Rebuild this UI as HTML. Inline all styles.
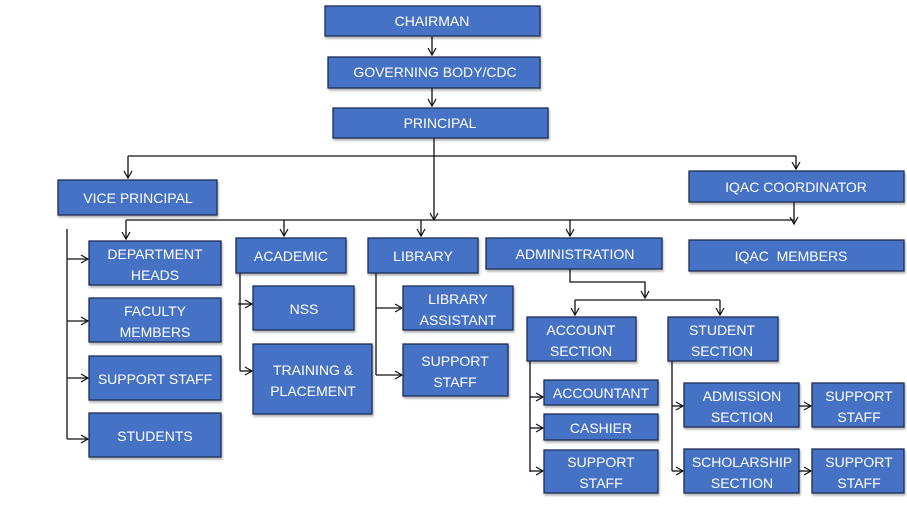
<!DOCTYPE html>
<html><head><style>
html,body{margin:0;padding:0;background:#fff;}
svg{display:block;}
text{font-family:"Liberation Sans",sans-serif;font-size:14px;fill:#fff;text-anchor:middle;}
.b{fill:#4472C4;stroke:#1c2e55;stroke-width:1.3;filter:url(#sh);}
.l{stroke:#111;stroke-width:1.3;fill:none;}
</style></head><body>
<svg width="907" height="508" viewBox="0 0 907 508" xmlns="http://www.w3.org/2000/svg">
<defs>
<filter id="sh" x="-5%" y="-5%" width="115%" height="130%"><feDropShadow dx="1" dy="2" stdDeviation="1" flood-color="#000" flood-opacity="0.3"/></filter>
<marker id="a" markerWidth="10" markerHeight="10" refX="8" refY="5" orient="auto" markerUnits="userSpaceOnUse"><path d="M1,1 L8,5 L1,9" fill="none" stroke="#111" stroke-width="1.2"/></marker>
</defs>
<!-- connectors -->
<g class="l">
<path d="M432,36V55" marker-end="url(#a)"/>
<path d="M432,88V106" marker-end="url(#a)"/>
<path d="M434,138V220" marker-end="url(#a)"/>
<path d="M128,156H796"/>
<path d="M128,156V178" marker-end="url(#a)"/>
<path d="M796,156V169" marker-end="url(#a)"/>
<path d="M126,220H794"/>
<path d="M126,220V239" marker-end="url(#a)"/>
<path d="M284,220V236" marker-end="url(#a)"/>
<path d="M421,220V236" marker-end="url(#a)"/>
<path d="M570,220V236" marker-end="url(#a)"/>
<path d="M794,202V224" marker-end="url(#a)"/>
<path d="M67,229V439"/>
<path d="M67,259H88" marker-end="url(#a)"/>
<path d="M67,321H88" marker-end="url(#a)"/>
<path d="M67,378H88" marker-end="url(#a)"/>
<path d="M67,439H88" marker-end="url(#a)"/>
<path d="M240,269V371"/>
<path d="M238,304H252" marker-end="url(#a)"/>
<path d="M240,371H252" marker-end="url(#a)"/>
<path d="M376,273V375"/>
<path d="M376,308H402" marker-end="url(#a)"/>
<path d="M376,375H402" marker-end="url(#a)"/>
<path d="M570,269V282H645V298" marker-end="url(#a)"/>
<path d="M575,300H720"/>
<path d="M575,300V315" marker-end="url(#a)"/>
<path d="M720,300V315" marker-end="url(#a)"/>
<path d="M530,361V472"/>
<path d="M530,397H543" marker-end="url(#a)"/>
<path d="M530,428H543" marker-end="url(#a)"/>
<path d="M530,471H543" marker-end="url(#a)"/>
<path d="M672,361V471"/>
<path d="M672,406H683" marker-end="url(#a)"/>
<path d="M672,471H683" marker-end="url(#a)"/>
<path d="M799,406H811" marker-end="url(#a)"/>
<path d="M799,471H811" marker-end="url(#a)"/>
</g>
<!-- boxes -->
<rect class="b" x="325" y="6" width="215" height="30"/><text x="432" y="26">CHAIRMAN</text>
<rect class="b" x="328" y="57" width="212" height="31"/><text x="435" y="77">GOVERNING BODY/CDC</text>
<rect class="b" x="333" y="108" width="215" height="30"/><text x="440" y="128">PRINCIPAL</text>
<rect class="b" x="58" y="180" width="159" height="35"/><text x="138" y="203">VICE PRINCIPAL</text>
<rect class="b" x="689" y="171" width="215" height="31"/><text x="796" y="192">IQAC COORDINATOR</text>
<rect class="b" x="689" y="240" width="215" height="31"/><text x="791" y="261">IQAC&#160; MEMBERS</text>
<rect class="b" x="89" y="241" width="132" height="44"/><text x="155" y="259">DEPARTMENT</text><text x="155" y="280">HEADS</text>
<rect class="b" x="89" y="298" width="132" height="44"/><text x="155" y="316">FACULTY</text><text x="155" y="337">MEMBERS</text>
<rect class="b" x="89" y="356" width="132" height="44"/><text x="155" y="384">SUPPORT STAFF</text>
<rect class="b" x="89" y="413" width="132" height="44"/><text x="155" y="441">STUDENTS</text>
<rect class="b" x="236" y="238" width="110" height="35"/><text x="291" y="261">ACADEMIC</text>
<rect class="b" x="253" y="286" width="101" height="44"/><text x="304" y="314">NSS</text>
<rect class="b" x="253" y="344" width="119" height="70"/><text x="313" y="375">TRAINING &amp;</text><text x="313" y="396">PLACEMENT</text>
<rect class="b" x="368" y="238" width="110" height="35"/><text x="423" y="261">LIBRARY</text>
<rect class="b" x="403" y="286" width="110" height="44"/><text x="458" y="304">LIBRARY</text><text x="458" y="325">ASSISTANT</text>
<rect class="b" x="403" y="344" width="105" height="52"/><text x="455" y="366">SUPPORT</text><text x="455" y="387">STAFF</text>
<rect class="b" x="486" y="238" width="176" height="31"/><text x="575" y="259">ADMINISTRATION</text>
<rect class="b" x="527" y="317" width="109" height="44"/><text x="581" y="335">ACCOUNT</text><text x="581" y="356">SECTION</text>
<rect class="b" x="668" y="317" width="110" height="44"/><text x="722" y="335">STUDENT</text><text x="722" y="356">SECTION</text>
<rect class="b" x="544" y="380" width="114" height="25"/><text x="601" y="398">ACCOUNTANT</text>
<rect class="b" x="544" y="414" width="114" height="26"/><text x="601" y="433">CASHIER</text>
<rect class="b" x="544" y="450" width="114" height="43"/><text x="601" y="467">SUPPORT</text><text x="601" y="488">STAFF</text>
<rect class="b" x="684" y="383" width="115" height="44"/><text x="742" y="401">ADMISSION</text><text x="742" y="422">SECTION</text>
<rect class="b" x="684" y="449" width="115" height="44"/><text x="742" y="467">SCHOLARSHIP</text><text x="742" y="488">SECTION</text>
<rect class="b" x="812" y="383" width="92" height="44"/><text x="859" y="401">SUPPORT</text><text x="859" y="422">STAFF</text>
<rect class="b" x="812" y="449" width="92" height="44"/><text x="859" y="467">SUPPORT</text><text x="859" y="488">STAFF</text>
</svg>
</body></html>
